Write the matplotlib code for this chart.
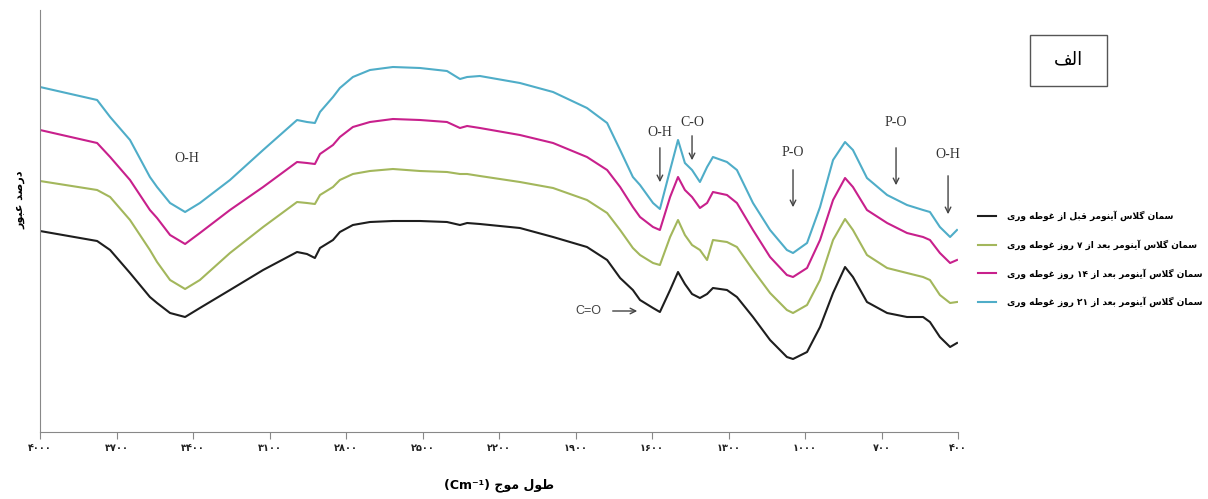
import re
import matplotlib
matplotlib.use('Agg')
import matplotlib.pyplot as plt
from matplotlib.lines import Line2D
from matplotlib.patches import Rectangle

# wavenumber (cm-1) and transmittance (arbitrary units)
wavenumber = [4000, 3776, 3725, 3647, 3569, 3541, 3490, 3431, 3373, 3255,
              3125, 2992, 2953, 2922, 2902, 2851, 2824, 2773, 2706, 2616,
              2510, 2404, 2353, 2325, 2275, 2118, 1988, 1855, 1776, 1725,
              1675, 1647, 1596, 1569, 1529, 1498, 1471, 1443, 1412, 1384,
              1361, 1306, 1267, 1204, 1137, 1071, 1047, 992, 941, 890,
              843, 812, 757, 678, 600, 537, 510, 471, 431, 404]

t_before = [201, 191, 182, 159, 135, 129, 119, 115, 124, 142,
            162, 180, 178, 174, 184, 192, 200, 207, 210, 211,
            211, 210, 207, 209, 208, 204, 195, 185, 172, 154,
            142, 132, 124, 120, 142, 160, 148, 138, 134, 138,
            144, 142, 135, 115, 92, 75, 73, 80, 105, 139,
            165, 155, 130, 119, 115, 115, 110, 95, 85, 89]

t_day7 = [251, 242, 235, 212, 182, 170, 152, 143, 152, 179,
          205, 230, 229, 228, 237, 245, 252, 258, 261, 263,
          261, 260, 258, 258, 256, 250, 244, 232, 219, 202,
          184, 177, 169, 167, 195, 212, 197, 187, 182, 172,
          192, 190, 185, 162, 139, 122, 119, 127, 152, 192,
          213, 202, 177, 164, 159, 155, 152, 137, 129, 130]

t_day14 = [302, 289, 275, 252, 222, 214, 197, 188, 199, 222,
           245, 270, 269, 268, 278, 287, 295, 305, 310, 313,
           312, 310, 304, 306, 304, 297, 289, 275, 262, 245,
           225, 215, 205, 202, 235, 255, 242, 235, 224, 229,
           240, 237, 229, 202, 175, 157, 155, 164, 192, 232,
           254, 245, 222, 209, 199, 195, 192, 179, 169, 172]

t_day21 = [345, 332, 315, 292, 255, 245, 229, 220, 229, 252,
           282, 312, 310, 309, 320, 335, 344, 355, 362, 365,
           364, 361, 353, 355, 356, 349, 340, 324, 309, 282,
           255, 247, 229, 223, 262, 292, 269, 262, 250, 265,
           275, 270, 262, 229, 202, 182, 179, 189, 225, 272,
           290, 282, 254, 237, 227, 222, 220, 205, 195, 202]

series_labels = ['سمان گلاس آینومر قبل از غوطه وری',
                 'سمان گلاس آینومر بعد از ۷ روز غوطه وری',
                 'سمان گلاس آینومر بعد از ۱۴ روز غوطه وری',
                 'سمان گلاس آینومر بعد از ۲۱ روز غوطه وری']
series_colors = ['#1e1e1e', '#a3b75c', '#c8208c', '#4fadc8']

xticks = [4000, 3700, 3400, 3100, 2800, 2500, 2200, 1900, 1600, 1300, 1000, 700, 400]

# Arabic letter forms: isolated, final, initial, medial
FORMS = {
    'ا': ('\uFE8D', '\uFE8E', None, None),
    'آ': ('\uFE81', '\uFE82', None, None),
    'ب': ('\uFE8F', '\uFE90', '\uFE91', '\uFE92'),
    'ج': ('\uFE9D', '\uFE9E', '\uFE9F', '\uFEA0'),
    'د': ('\uFEA9', '\uFEAA', None, None),
    'ر': ('\uFEAD', '\uFEAE', None, None),
    'ز': ('\uFEAF', '\uFEB0', None, None),
    'س': ('\uFEB1', '\uFEB2', '\uFEB3', '\uFEB4'),
    'ص': ('\uFEB9', '\uFEBA', '\uFEBB', '\uFEBC'),
    'ط': ('\uFEC1', '\uFEC2', '\uFEC3', '\uFEC4'),
    'ع': ('\uFEC9', '\uFECA', '\uFECB', '\uFECC'),
    'غ': ('\uFECD', '\uFECE', '\uFECF', '\uFED0'),
    'ف': ('\uFED1', '\uFED2', '\uFED3', '\uFED4'),
    'ق': ('\uFED5', '\uFED6', '\uFED7', '\uFED8'),
    'ل': ('\uFEDD', '\uFEDE', '\uFEDF', '\uFEE0'),
    'م': ('\uFEE1', '\uFEE2', '\uFEE3', '\uFEE4'),
    'ن': ('\uFEE5', '\uFEE6', '\uFEE7', '\uFEE8'),
    'ه': ('\uFEE9', '\uFEEA', '\uFEEB', '\uFEEC'),
    'و': ('\uFEED', '\uFEEE', None, None),
    'ی': ('\uFBFC', '\uFBFD', '\uFBFE', '\uFBFF'),
    'گ': ('\uFB92', '\uFB93', '\uFB94', '\uFB95'),
}
LAM_ALEF = {'ا': ('\uFEFB', '\uFEFC'), 'آ': ('\uFEF5', '\uFEF6')}


def rtl(text):
    """Shape Persian text into presentation forms and put it in visual order."""
    out = []
    i = 0
    n = len(text)
    while i < n:
        c = text[i]
        if c not in FORMS:
            out.append(c)
            i += 1
            continue
        prev = text[i - 1] if i > 0 else ''
        prev_joins = prev in FORMS and FORMS[prev][2] is not None
        if c == 'ل' and i + 1 < n and text[i + 1] in LAM_ALEF:
            iso, fin = LAM_ALEF[text[i + 1]]
            out.append(fin if prev_joins else iso)
            i += 2
            continue
        nxt = text[i + 1] if i + 1 < n else ''
        next_joins = nxt in FORMS
        iso, fin, ini, med = FORMS[c]
        if ini is None:
            out.append(fin if prev_joins else iso)
        elif prev_joins and next_joins:
            out.append(med)
        elif prev_joins:
            out.append(fin)
        elif next_joins:
            out.append(ini)
        else:
            out.append(iso)
        i += 1
    visual = ''.join(out)[::-1]
    return re.sub('[۰-۹]+', lambda m: m.group(0)[::-1], visual)


def persian_digits(v):
    return str(v).translate(str.maketrans('0123456789', '۰۱۲۳۴۵۶۷۸۹'))


plt.rcParams['font.family'] = ['DejaVu Sans']

fig = plt.figure(figsize=(12.08, 4.99), dpi=100)
ax = fig.add_axes([40 / 1208, 67 / 499, 918 / 1208, 422 / 499])

series = [t_before, t_day7, t_day14, t_day21]
for vals, color in zip(series, series_colors):
    ax.plot(wavenumber, vals, color=color, lw=1.5)

ax.set_xlim(4000, 400)
ax.set_ylim(0, 422)
ax.set_xticks(xticks)
ax.set_xticklabels([persian_digits(v) for v in xticks], fontsize=7, fontweight='bold')
ax.set_yticks([])
ax.tick_params(axis='x', length=5, color='#888888', pad=3, labelcolor='#222222')
for side in ['top', 'right']:
    ax.spines[side].set_visible(False)
for side in ['left', 'bottom']:
    ax.spines[side].set_color('#888888')

ax.set_xlabel('(Cm⁻¹) ' + rtl('طول موج'), fontsize=9, fontweight='bold', labelpad=18)
fig.text(20 / 1208, 1 - 200 / 499, rtl('درصد عبور'), rotation=90, fontsize=8,
         fontweight='bold', ha='center', va='center')

# band labels
serif = 'Liberation Serif'
ax.text(3424, 274, 'O-H', fontsize=10, family=serif, ha='center', va='center', color='#333333')
arrow_labels = [('O-H', 1569, 300, 287, 247),
                ('C-O', 1443, 310, 299, 269),
                ('P-O', 1047, 279, 265, 222),
                ('P-O', 643, 309, 287, 244),
                ('O-H', 439, 277, 259, 215)]
for lab, x, ty, y0, y1 in arrow_labels:
    ax.text(x, ty, lab, fontsize=10, family=serif, ha='center', va='center', color='#333333')
    ax.annotate('', xy=(x, y1), xytext=(x, y0),
                arrowprops=dict(arrowstyle='->', color='#444444', lw=1))
ax.text(1851, 121, 'C=O', fontsize=9, family='Liberation Sans', ha='center', va='center',
        color='#444444')
ax.annotate('', xy=(1647, 121), xytext=(1765, 121),
            arrowprops=dict(arrowstyle='->', color='#444444', lw=1))

handles = [Line2D([], [], color=c, lw=1.5) for c in series_colors]
fig.legend(handles, [rtl(s) for s in series_labels], loc='center left',
           bbox_to_anchor=(970 / 1208, 1 - 259 / 499), frameon=False,
           prop={'size': 6.5, 'weight': 'bold'}, handlelength=2.0,
           handletextpad=1.2, labelspacing=2.0)

# panel tag
fig.add_artist(Rectangle((1030 / 1208, 1 - 86 / 499), 77 / 1208, 51 / 499,
                         transform=fig.transFigure, fill=False,
                         edgecolor='#555555', lw=1))
fig.text(1068 / 1208, 1 - 59 / 499, rtl('الف'), fontsize=13, ha='center', va='center')

fig.savefig('out.png', dpi=100)
